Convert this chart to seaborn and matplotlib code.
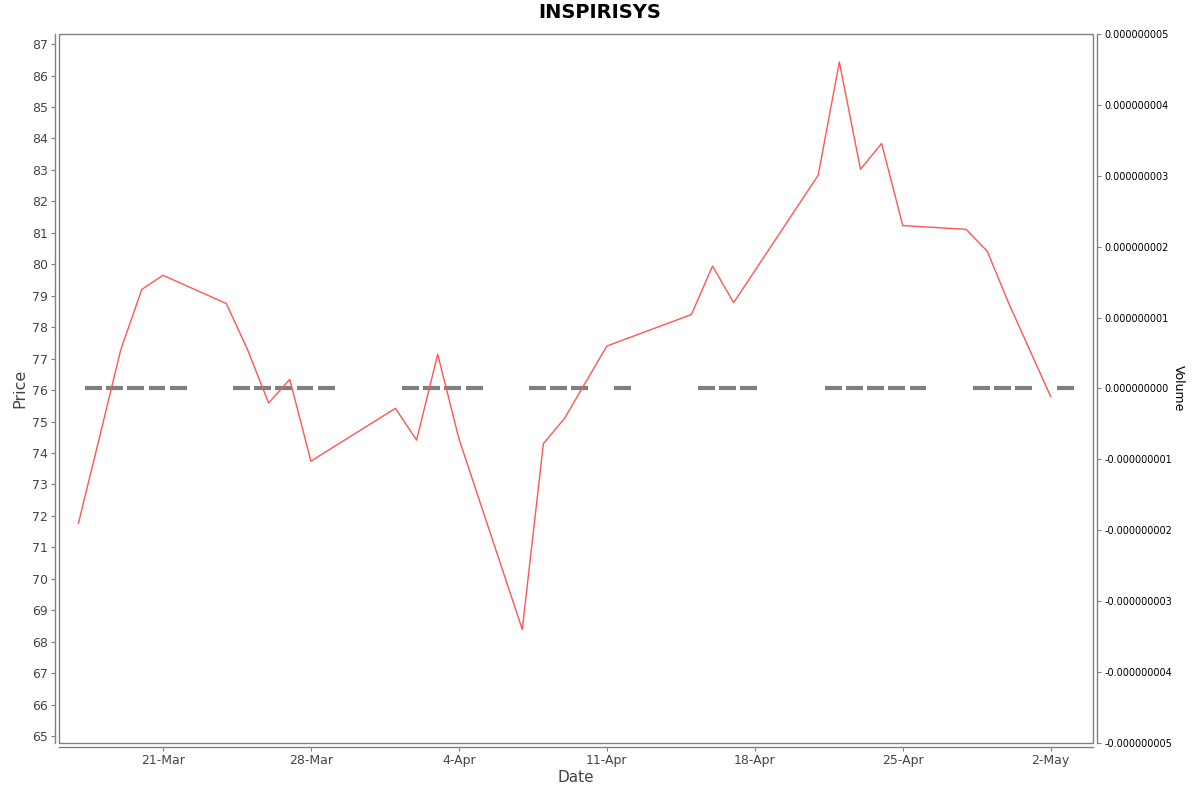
import matplotlib

matplotlib.use("Agg")
import matplotlib.dates as mdates
import matplotlib.pyplot as plt
import numpy as np
import pandas as pd
import seaborn as sns
from matplotlib.patches import Rectangle

# trading days shown in the chart (2025)
dates = [
    "2025-03-17", "2025-03-18", "2025-03-19", "2025-03-20", "2025-03-21",
    "2025-03-24", "2025-03-25", "2025-03-26", "2025-03-27", "2025-03-28",
    "2025-04-01", "2025-04-02", "2025-04-03", "2025-04-04",
    "2025-04-07", "2025-04-08", "2025-04-09", "2025-04-11",
    "2025-04-15", "2025-04-16", "2025-04-17",
    "2025-04-21", "2025-04-22", "2025-04-23", "2025-04-24", "2025-04-25",
    "2025-04-28", "2025-04-29", "2025-04-30", "2025-05-02",
]
price = [
    71.76, 74.5, 77.27, 79.2, 79.65,
    78.75, 77.29, 75.59, 76.34, 73.74,
    75.42, 74.41, 77.14, 74.46,
    68.39, 74.3, 75.1, 77.4,
    78.4, 79.94, 78.78,
    82.83, 86.43, 83.02, 83.84, 81.23,
    81.11, 80.41, 78.78, 75.79,
]
volume = [0.0] * len(dates)

tick_dates = ["2025-03-21", "2025-03-28", "2025-04-04", "2025-04-11",
              "2025-04-18", "2025-04-25", "2025-05-02"]
tick_labels = ["21-Mar", "28-Mar", "4-Apr", "11-Apr", "18-Apr", "25-Apr", "2-May"]
price_ticks = list(range(65, 88))
volume_ticks = [-5e-9, -4e-9, -3e-9, -2e-9, -1e-9, 0.0, 1e-9, 2e-9, 3e-9, 4e-9, 5e-9]

df = pd.DataFrame({"Date": pd.to_datetime(dates), "Price": price, "Volume": volume})

sns.set_theme(style="white")
plt.rcParams["font.family"] = ["DejaVu Sans"]

GREY = "#808080"
TXT = "#444444"

fig = plt.figure(figsize=(12, 7.92), dpi=100)
ax = fig.add_axes([59 / 1200, 49 / 792, 1034 / 1200, 709 / 792])
ax2 = ax.twinx()

sns.lineplot(data=df, x="Date", y="Price", ax=ax, color="#ff5555", linewidth=1.0, zorder=3)

# zero volume bars show up as flat grey dashes (bar spans the day, shifted by tz)
day = pd.Timedelta(days=1)
bar_start = mdates.date2num(df["Date"] + 0.32 * day)
bar_end = mdates.date2num(df["Date"] + 1.12 * day)
ax2.hlines(df["Volume"], bar_start, bar_end, colors=GREY, linewidth=3.0, capstyle="butt", zorder=2)
ax.set_zorder(ax2.get_zorder() + 1)
ax.patch.set_visible(False)

ax.set_xlim(mdates.date2num(pd.Timestamp("2025-03-16 02:00")), mdates.date2num(pd.Timestamp("2025-05-04")))
ax.set_ylim(64.78, 87.32)
ax2.set_ylim(-5e-9, 5e-9)

ax.set_xticks(mdates.date2num(pd.to_datetime(tick_dates)))
ax.set_xticklabels(tick_labels)
ax.set_yticks(price_ticks)
ax.set_yticklabels([str(v) for v in price_ticks])
ax2.set_yticks(volume_ticks)
ax2.set_yticklabels([f"{abs(v):.9f}" if v == 0 else f"{v:.9f}" for v in volume_ticks])

for side in ["top", "right"]:
    ax.spines[side].set_visible(False)
for side in ["top", "left", "bottom"]:
    ax2.spines[side].set_visible(False)
for sp in [ax.spines["left"], ax.spines["bottom"], ax2.spines["right"]]:
    sp.set_position(("outward", 3))
    sp.set_color(GREY)
    sp.set_linewidth(1.0)

ax.tick_params(axis="both", which="major", length=3, width=0.8, color=GREY,
               labelcolor=TXT, labelsize=9, pad=2, left=True, bottom=True)
ax2.tick_params(axis="y", length=3, width=0.8, color=GREY, labelcolor="black",
                labelsize=7, pad=2, right=True)

# plot area frame
ax2.add_patch(Rectangle((0, 0), 1, 1, transform=ax2.transAxes, fill=False,
                        edgecolor=GREY, linewidth=1.0, clip_on=False, zorder=10))

ax.set_xlabel("Date", fontsize=11, color=TXT, labelpad=2)
ax.set_ylabel("Price", fontsize=11.5, color=TXT, labelpad=3)
ax2.set_ylabel("Volume", fontsize=9, color="black", rotation=-90, labelpad=9)
fig.text(0.5, 1 - 13 / 792, "INSPIRISYS", ha="center", va="center",
         fontsize=14, fontweight="bold", color="black")
ax.grid(False)
ax2.grid(False)

fig.savefig("out.png", dpi=100)
